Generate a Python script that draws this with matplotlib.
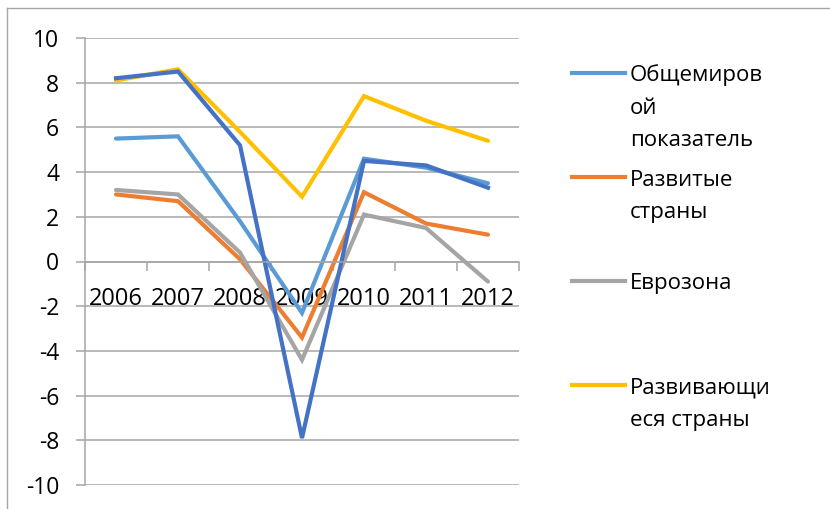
import numpy as np
import matplotlib
matplotlib.use('Agg')
import matplotlib.pyplot as plt
from matplotlib.lines import Line2D

plt.rcParams['font.family'] = ['Open Sans', 'DejaVu Sans']
plt.rcParams['axes.unicode_minus'] = False

## data
years = ['2006', '2007', '2008', '2009', '2010', '2011', '2012']
world = [5.5, 5.6, 1.8, -2.3, 4.6, 4.2, 3.5]
developed = [3.0, 2.7, 0.1, -3.4, 3.1, 1.7, 1.2]
eurozone = [3.2, 3.0, 0.4, -4.4, 2.1, 1.5, -0.9]
developing = [8.1, 8.6, 5.8, 2.9, 7.4, 6.3, 5.4]
extra = [8.2, 8.5, 5.2, -7.9, 4.5, 4.3, 3.3]

names = ['Общемиров\nой\nпоказатель', 'Развитые\nстраны', 'Еврозона', 'Развивающи\nеся страны']
colors = ['#5B9BD5', '#ED7D31', '#A5A5A5', '#FFC000']
extra_color = '#4472C4'
grid_c = '#a6a6a6'

W, H = 830, 509
fig = plt.figure(figsize=(W/100, H/100), dpi=100)
ax = fig.add_axes([85/W, 1-485/H, 434/W, 447/H])

x = np.arange(len(years))
series = [world, developed, eurozone, developing]
for s, c in zip(series, colors):
    ax.plot(x, s, color=c, lw=3.0, solid_capstyle='round', solid_joinstyle='miter')
ax.plot(x, extra, color=extra_color, lw=3.0, solid_joinstyle='miter')

ax.set_xlim(-0.5, len(years)-0.5)
ax.set_ylim(-10, 10)
ax.set_yticks(np.arange(-10, 11, 2))
ax.grid(axis='y', color=grid_c, lw=1.1)
ax.set_axisbelow(True)

for sp in ['top', 'right']:
    ax.spines[sp].set_visible(False)
ax.spines['left'].set_color(grid_c)
ax.spines['left'].set_linewidth(1.1)
ax.spines['bottom'].set_position(('data', 0))
ax.spines['bottom'].set_color(grid_c)
ax.spines['bottom'].set_linewidth(1.1)

ax.set_xticks(x)
ax.set_xticklabels(years)
ax.set_xticks(np.arange(-0.5, len(years), 1.0), minor=True)
ax.tick_params(axis='x', which='major', length=0, pad=18.5, labelsize=17)
ax.tick_params(axis='x', which='minor', length=6.5, width=1.1, color=grid_c, direction='out')
ax.tick_params(axis='y', length=6.5, width=1.1, color=grid_c, pad=12, labelsize=16.5)

## legend drawn by hand (Excel-like layout)
leg_y = [72.5, 176.5, 280.5, 384.5]
for name, c, yy in zip(names, colors, leg_y):
    fy = 1 - yy/H
    fig.add_artist(Line2D([572/W, 625/W], [fy, fy], color=c, lw=3.0, transform=fig.transFigure))
    for i, line in enumerate(name.split('\n')):
        fig.text(630/W, 1 - (yy + 9 + i*32.5)/H, line, fontsize=16, va='baseline', ha='left')

## chart area border
fig.add_artist(Line2D([7/W, 1], [1-8/H, 1-8/H], color=grid_c, lw=1, transform=fig.transFigure))
fig.add_artist(Line2D([7/W, 7/W], [0, 1-8/H], color=grid_c, lw=1, transform=fig.transFigure))

fig.savefig('out.png', dpi=100)
